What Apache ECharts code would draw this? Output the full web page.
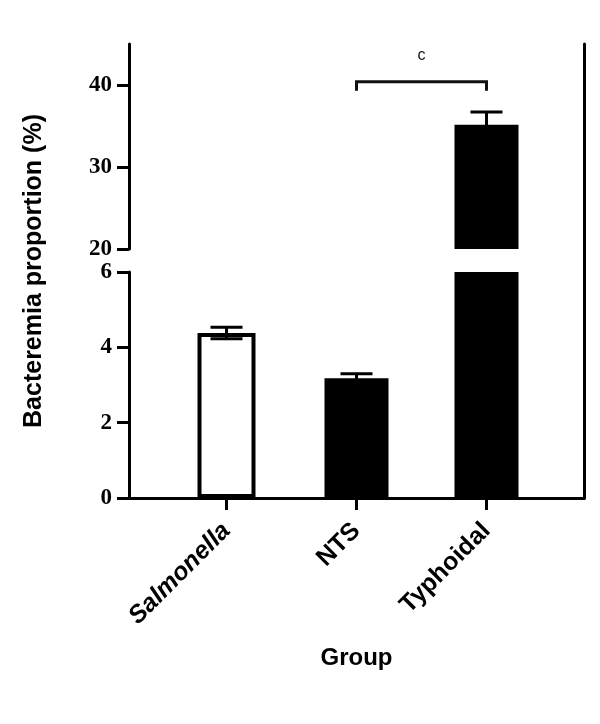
<!DOCTYPE html>
<html>
<head>
<meta charset="utf-8">
<script src="https://cdn.jsdelivr.net/npm/echarts@6/dist/echarts.min.js"></script>
<style>html,body{margin:0;padding:0;background:#fff;}#c{width:600px;height:724px;}</style>
</head>
<body>
<div id="c"></div>
<script>
// ---- data ----
const categories = ['Salmonella', 'NTS', 'Typhoidal'];
const xPositions = [1, 2, 3];
const means = [4.38, 3.18, 35.15];
const sems = [0.15, 0.12, 1.55];
const lowerTicks = [0, 2, 4, 6];
const upperTicks = [20, 30, 40];
const sigPair = [2, 3];        // NTS vs Typhoidal
const sigLevel = [40.4, 39.3]; // bracket top, leg end
const sigLabel = 'c';

const lowerRange = [0, 6];
const upperRange = [20, 45];
const xRange = [0.25, 3.75];

const chart = echarts.init(document.getElementById('c'));

const black = '#000';
const lw = 3;

function errorBarRender(params, api) {
  const x = api.value(0), m = api.value(1), s = api.value(2);
  const top = api.coord([x, m + s]);
  const bot = api.coord([x, m - s]);
  const half = 16;
  const style = { stroke: black, lineWidth: lw };
  return {
    type: 'group',
    children: [
      { type: 'line', shape: { x1: top[0], y1: top[1], x2: bot[0], y2: bot[1] }, style },
      { type: 'line', shape: { x1: top[0] - half, y1: top[1], x2: top[0] + half, y2: top[1] }, style },
      { type: 'line', shape: { x1: bot[0] - half, y1: bot[1], x2: bot[0] + half, y2: bot[1] }, style }
    ]
  };
}

const lowerErr = [], upperErr = [], blackLower = [], whiteLower = [], upperBars = [];
xPositions.forEach((x, i) => {
  if (means[i] <= lowerRange[1]) lowerErr.push([x, means[i], sems[i]]);
  else upperErr.push([x, means[i], sems[i]]);
  if (i === 0) whiteLower.push([x, means[i]]);
  else blackLower.push([x, means[i]]);
  if (means[i] > upperRange[0]) upperBars.push([x, means[i]]);
});

const catLabelStyle = { fontFamily: 'Liberation Sans', fontWeight: 'bold', fontSize: 25, color: black };

const option = {
  animation: false,
  backgroundColor: '#fff',
  grid: [
    { left: 129, top: 44, width: 455, height: 205 },
    { left: 129, top: 272, width: 455, height: 226 },
    { left: 129, top: 44, width: 455, height: 454 }
  ],
  xAxis: [
    { gridIndex: 0, type: 'value', min: xRange[0], max: xRange[1], show: false },
    {
      gridIndex: 1, type: 'value', min: xRange[0], max: xRange[1], position: 'bottom',
      splitLine: { show: false },
      axisLine: { show: true, lineStyle: { color: black, width: lw } },
      axisTick: { show: true, customValues: xPositions, length: 12, lineStyle: { color: black, width: lw } },
      axisLabel: {
        customValues: xPositions, rotate: 45, margin: 29,
        formatter: v => {
          const i = xPositions.indexOf(v);
          if (i < 0) return '';
          return i === 0 ? '{it|' + categories[i] + '}' : '{n|' + categories[i] + '}';
        },
        rich: {
          it: Object.assign({}, catLabelStyle, { fontStyle: 'italic' }),
          n: catLabelStyle
        }
      },
      name: 'Group', nameLocation: 'middle', nameGap: 148,
      nameTextStyle: { fontFamily: 'Liberation Sans', fontWeight: 'bold', fontSize: 24, color: black }
    },
    { gridIndex: 1, type: 'value', min: xRange[0], max: xRange[1], show: false },
    {
      gridIndex: 2, type: 'value', min: xRange[0], max: xRange[1], position: 'top',
      splitLine: { show: false },
      axisLine: { show: true, lineStyle: { color: black, width: lw } },
      axisTick: { show: false }, axisLabel: { show: false }
    }
  ],
  yAxis: [
    {
      gridIndex: 0, type: 'value', min: upperRange[0], max: upperRange[1],
      splitLine: { show: false },
      axisLine: { show: true, lineStyle: { color: black, width: lw } },
      axisTick: { show: true, customValues: upperTicks, length: 12, lineStyle: { color: black, width: lw } },
      axisLabel: { customValues: upperTicks, margin: 17, fontFamily: 'Liberation Serif', fontWeight: 'bold', fontSize: 23, color: black }
    },
    {
      gridIndex: 1, type: 'value', min: lowerRange[0], max: lowerRange[1],
      splitLine: { show: false },
      axisLine: { show: true, lineStyle: { color: black, width: lw } },
      axisTick: { show: true, customValues: lowerTicks, length: 12, lineStyle: { color: black, width: lw } },
      axisLabel: { customValues: lowerTicks, margin: 17, fontFamily: 'Liberation Serif', fontWeight: 'bold', fontSize: 23, color: black }
    },
    {
      gridIndex: 2, type: 'value', min: 0, max: 1, position: 'left',
      axisLine: { show: false }, axisTick: { show: false }, axisLabel: { show: false }, splitLine: { show: false },
      name: 'Bacteremia proportion (%)', nameLocation: 'middle', nameGap: 82,
      nameTextStyle: { fontFamily: 'Liberation Sans', fontWeight: 'bold', fontSize: 25, color: black }
    },
    {
      gridIndex: 2, type: 'value', min: 0, max: 1, position: 'right',
      splitLine: { show: false },
      axisLine: { show: true, lineStyle: { color: black, width: lw } },
      axisTick: { show: false }, axisLabel: { show: false }
    }
  ],
  series: [
    { type: 'bar', xAxisIndex: 1, yAxisIndex: 1, data: blackLower, barWidth: 64, itemStyle: { color: black }, clip: true, z: 2 },
    { type: 'bar', xAxisIndex: 2, yAxisIndex: 1, data: whiteLower, barWidth: 58, itemStyle: { color: '#fff', borderColor: black, borderWidth: 4 }, clip: true, z: 2 },
    { type: 'bar', xAxisIndex: 0, yAxisIndex: 0, data: upperBars, barWidth: 64, itemStyle: { color: black }, clip: true, z: 2 },
    { type: 'custom', xAxisIndex: 1, yAxisIndex: 1, data: lowerErr, renderItem: errorBarRender, z: 3 },
    { type: 'custom', xAxisIndex: 0, yAxisIndex: 0, data: upperErr, renderItem: errorBarRender, z: 3 },
    {
      type: 'custom', xAxisIndex: 0, yAxisIndex: 0,
      data: [[sigPair[0], sigPair[1], sigLevel[0], sigLevel[1]]],
      renderItem: (params, api) => {
        const a = api.coord([api.value(0), api.value(3)]);
        const b = api.coord([api.value(0), api.value(2)]);
        const c = api.coord([api.value(1), api.value(2)]);
        const d = api.coord([api.value(1), api.value(3)]);
        return {
          type: 'group',
          children: [
            { type: 'polyline', shape: { points: [a, b, c, d] }, style: { stroke: '#111', lineWidth: lw, fill: null } },
            { type: 'text', style: { text: sigLabel, x: (b[0] + c[0]) / 2, y: b[1] - 26, align: 'center', verticalAlign: 'middle',
              fontFamily: 'Liberation Sans', fontSize: 16, fill: '#111' } }
          ]
        };
      },
      z: 3
    }
  ]
};
chart.setOption(option);
</script>
</body>
</html>
